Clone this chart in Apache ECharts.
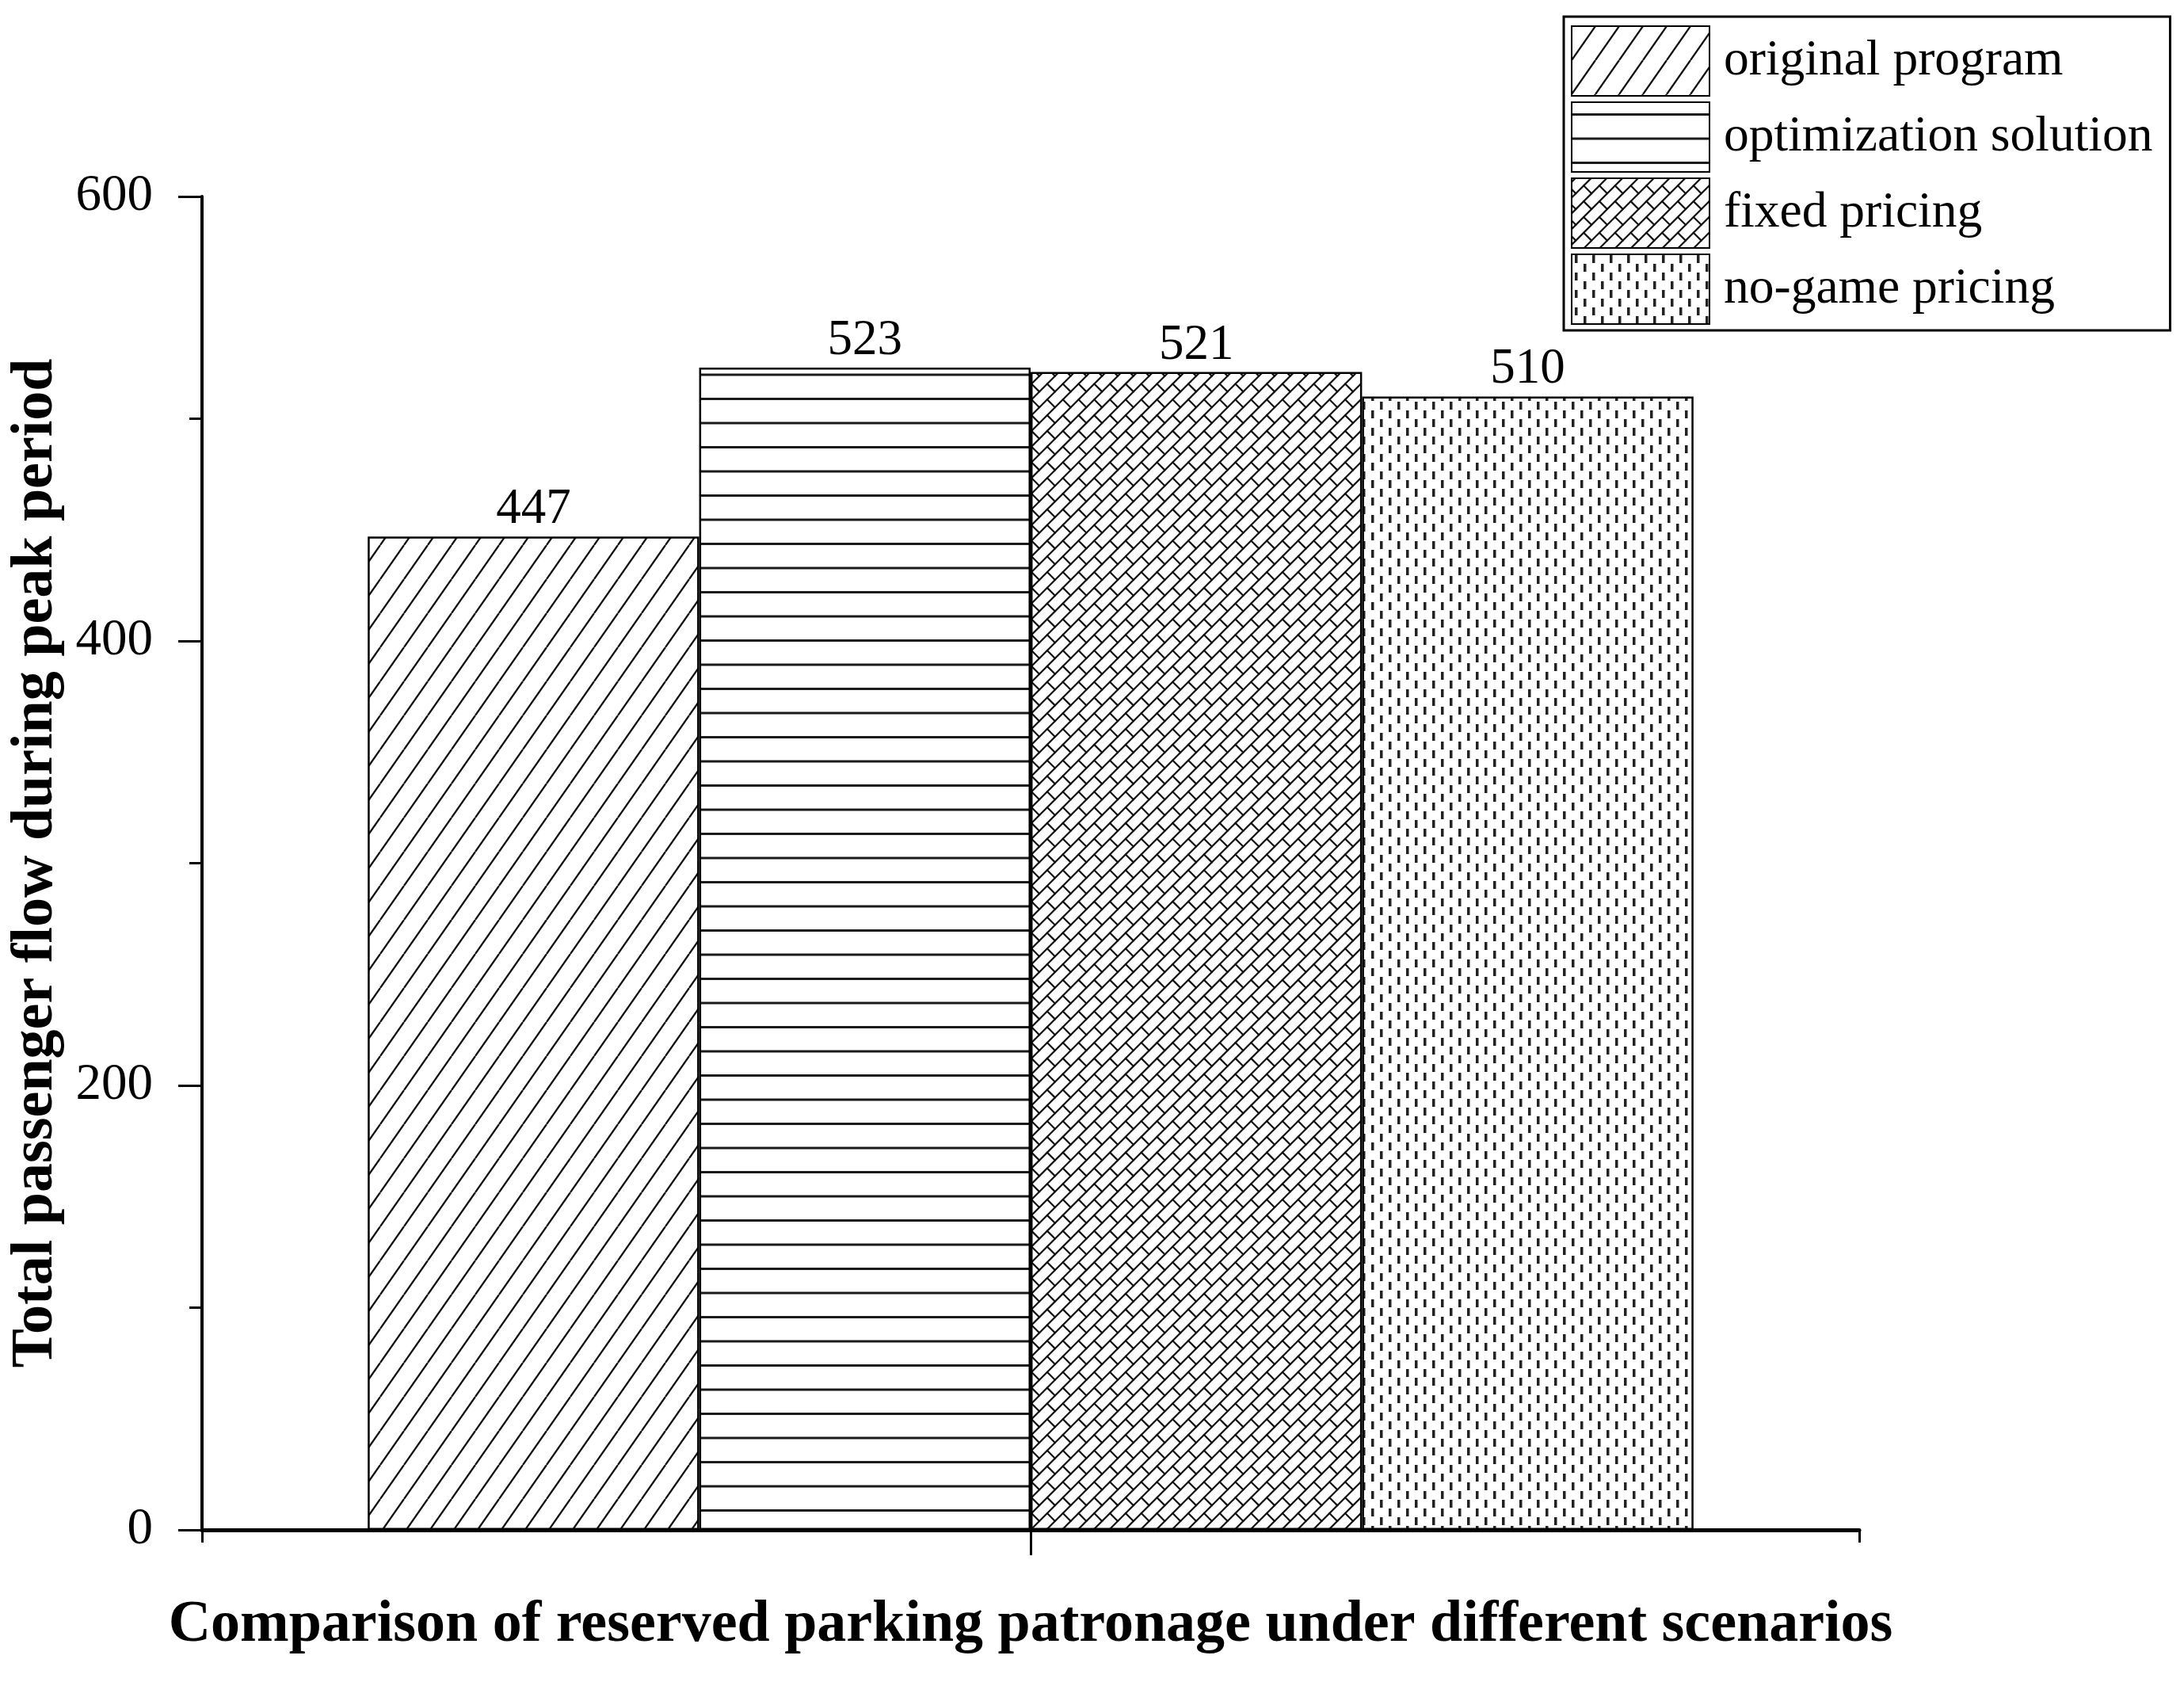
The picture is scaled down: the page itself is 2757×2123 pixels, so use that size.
<!DOCTYPE html>
<html><head><meta charset="utf-8">
<script src="https://cdn.jsdelivr.net/npm/echarts@6/dist/echarts.min.js"></script>
<style>html,body{margin:0;padding:0;background:#fff}#c{width:2757px;height:2123px}</style>
</head><body><div id="c"></div><script>
// ---- data ----
const categories = ['Reserved parking patronage'];
const seriesNames = ['original program', 'optimization solution', 'fixed pricing', 'no-game pricing'];
const originalProgram = [447];
const optimizationSolution = [523];
const fixedPricing = [521];
const noGamePricing = [510];
const yTicks = [0, 200, 400, 600];
const xTitle = 'Comparison of reserved parking patronage under different scenarios';
const yTitle = 'Total passenger flow during peak period';

// ---- pattern textures ----
function mk(w, h) { const c = document.createElement('canvas'); c.width = w; c.height = h; const x = c.getContext('2d'); x.fillStyle = '#fff'; x.fillRect(0, 0, w, h); return [c, x]; }
function diagTile() {
  const w = 30, h = 43; const [c, x] = mk(w, h);
  x.strokeStyle = '#111'; x.lineWidth = 2.3;
  for (let k = -1; k <= 1; k++) { x.beginPath(); x.moveTo(k * w, h); x.lineTo(k * w + w, 0); x.stroke(); }
  return c;
}
function hLineTile() {
  const w = 10, h = 61; const [c, x] = mk(w, h);
  x.fillStyle = '#1a1a1a';
  x.fillRect(0, 14, w, 3); x.fillRect(0, 44.5, w, 3);
  return c;
}
function dotTile() {
  const w = 22, h = 22; const [c, x] = mk(w, h);
  x.fillStyle = '#222';
  x.fillRect(4, 1, 3.5, 10); x.fillRect(15, 12, 3.5, 10);
  return c;
}
function brickBig() {
  const W = 2757, H = 2123; const [c, x] = mk(W, H);
  const a = -45 * Math.PI / 180, d = 14, L = 28;
  x.translate(W / 2, H / 2); x.rotate(a);
  x.strokeStyle = '#111'; x.lineWidth = 2.2; x.lineCap = 'round';
  const R = 1900;
  for (let j = -Math.ceil(R / d); j <= Math.ceil(R / d); j++) {
    const y = j * d;
    x.beginPath(); x.moveTo(-R, y); x.lineTo(R, y); x.stroke();
    const off = (((j % 2) + 2) % 2) * L / 2;
    x.beginPath();
    for (let u = -R + off; u <= R; u += L) { x.moveTo(u, y); x.lineTo(u, y + d); }
    x.stroke();
  }
  return c;
}
const fills = [
  { image: diagTile(), repeat: 'repeat' },
  { image: hLineTile(), repeat: 'repeat' },
  { image: brickBig(), repeat: 'repeat' },
  { image: dotTile(), repeat: 'repeat' }
];
const values = [originalProgram, optimizationSolution, fixedPricing, noGamePricing];

const FONT = 'Liberation Serif';
const series = seriesNames.map((n, i) => ({
  name: n, type: 'bar', data: values[i], xAxisIndex: 0,
  barGap: '0%', barCategoryGap: '20%',
  itemStyle: { color: fills[i], borderColor: '#000', borderWidth: 2.5 },
  label: { show: true, position: 'top', distance: 2, color: '#000', fontFamily: FONT, fontSize: 63 },
  emphasis: { disabled: true }, animation: false
}));

const chart = echarts.init(document.getElementById('c'), null, { renderer: 'canvas' });
chart.setOption({
  backgroundColor: '#fff',
  animation: false,
  grid: { left: 255, right: 410, top: 248, bottom: 192, containLabel: false },
  legend: {
    orient: 'vertical', left: 1974, top: 21,
    icon: 'rect',
    itemWidth: 174, itemHeight: 88, itemGap: 6,
    padding: [11, 22, 7, 9],
    borderColor: '#000', borderWidth: 3,
    textStyle: { fontFamily: FONT, fontSize: 63.5, color: '#000', padding: [0, 0, 0, 13] },
    data: seriesNames
  },
  xAxis: [{
    type: 'category', data: categories, position: 'bottom',
    axisLine: { show: true, lineStyle: { color: '#000', width: 5 } },
    axisTick: { show: true, alignWithLabel: true, length: 32, lineStyle: { color: '#000', width: 3 } },
    axisLabel: { show: false },
    name: xTitle, nameLocation: 'middle', nameGap: 84,
    nameTextStyle: { fontFamily: FONT, fontWeight: 'bold', fontSize: 74, color: '#000' }
  }, {
    type: 'category', data: categories, position: 'bottom', gridIndex: 0,
    axisLine: { show: false },
    axisTick: { show: true, length: 16, lineStyle: { color: '#000', width: 3 } },
    axisLabel: { show: false }
  }],
  yAxis: {
    type: 'value', min: yTicks[0], max: yTicks[yTicks.length - 1], interval: 200,
    axisLine: { show: true, lineStyle: { color: '#000', width: 4 } },
    axisTick: { show: true, length: 30, lineStyle: { color: '#000', width: 3 } },
    minorTick: { show: true, splitNumber: 2, length: 16, lineStyle: { color: '#000', width: 3 } },
    splitLine: { show: false },
    axisLabel: { fontFamily: FONT, fontSize: 65, color: '#000', margin: 62 },
    name: yTitle, nameLocation: 'middle', nameGap: 172, nameRotate: 90,
    nameTextStyle: { fontFamily: FONT, fontWeight: 'bold', fontSize: 74, color: '#000' }
  },
  series: series
});
</script></body></html>
